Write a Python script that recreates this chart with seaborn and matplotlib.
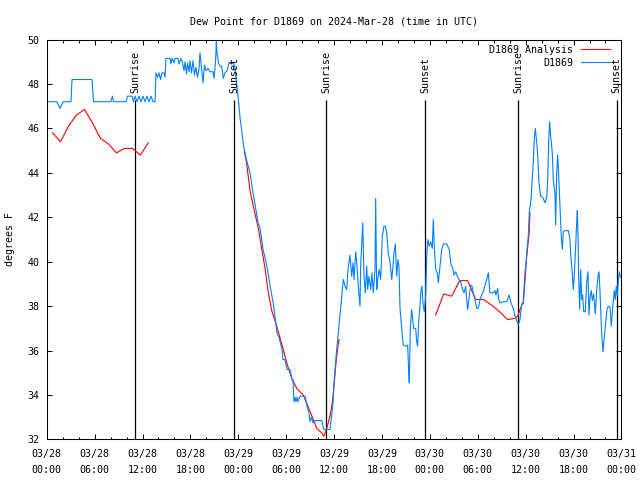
import matplotlib
matplotlib.use("Agg")
import matplotlib.pyplot as plt
import seaborn as sns
import numpy as np
import pandas as pd

start = pd.Timestamp("2024-03-28 00:00")

# station observations (hours since 03/28 00:00 UTC, deg F)
obs_hours = [
    0.0, 1.29, 1.67, 2.04, 3.04, 3.17, 5.67, 5.86, 8.05, 8.22,
    8.37, 9.93, 10.12, 10.69, 10.87, 11.06, 11.31, 11.56, 11.81, 12.06,
    12.31, 12.56, 12.81, 13.06, 13.31, 13.57, 13.69, 13.88, 14.07, 14.26,
    14.44, 14.69, 14.82, 14.94, 15.45, 15.57, 15.70, 15.95, 16.07, 16.45,
    16.57, 16.82, 17.01, 17.20, 17.32, 17.51, 17.64, 17.83, 17.95, 18.14,
    18.33, 18.51, 18.70, 18.89, 19.08, 19.20, 19.39, 19.58, 19.77, 19.96,
    20.21, 20.46, 20.83, 20.96, 21.15, 21.25, 21.33, 21.52, 21.71, 21.92,
    22.12, 22.34, 22.59, 22.84, 23.15, 23.40, 23.59, 23.80, 24.00, 24.21,
    24.43, 24.63, 24.84, 25.09, 25.47, 25.84, 26.09, 26.47, 26.72, 27.10,
    27.47, 27.72, 28.04, 28.35, 28.60, 28.85, 29.10, 29.48, 29.60, 29.85,
    30.10, 30.48, 30.73, 30.85, 30.98, 31.10, 31.23, 31.36, 31.48, 31.73,
    32.36, 32.61, 32.86, 32.98, 33.17, 33.36, 33.61, 34.45, 34.61, 34.74,
    35.49, 35.70, 35.86, 35.99, 36.24, 36.49, 36.74, 36.95, 37.16, 37.37,
    37.58, 37.74, 37.99, 38.21, 38.37, 38.50, 38.71, 38.87, 39.12, 39.25,
    39.33, 39.50, 39.59, 39.75, 39.91, 40.09, 40.21, 40.37, 40.59, 40.75,
    40.91, 41.13, 41.21, 41.34, 41.46, 41.66, 41.84, 42.04, 42.25, 42.42,
    42.59, 42.79, 43.01, 43.22, 43.34, 43.51, 43.67, 43.84, 44.01, 44.13,
    44.26, 44.51, 44.67, 45.01, 45.22, 45.35, 45.42, 45.55, 45.72, 45.85,
    45.97, 46.22, 46.35, 46.47, 46.60, 46.76, 46.89, 47.01, 47.14, 47.30,
    47.48, 47.60, 47.73, 47.93, 48.10, 48.30, 48.43, 48.55, 48.73, 48.93,
    49.06, 49.27, 49.48, 49.68, 50.11, 50.43, 50.65, 50.86, 51.02, 51.24,
    51.44, 51.65, 51.86, 52.06, 52.28, 52.49, 52.61, 52.74, 52.94, 53.11,
    53.28, 53.44, 53.65, 53.87, 54.07, 54.28, 54.49, 54.69, 54.91, 55.12,
    55.32, 55.53, 55.95, 56.16, 56.28, 56.50, 56.62, 56.79, 57.20, 57.62,
    57.91, 58.16, 58.45, 58.66, 58.88, 59.08, 59.29, 59.50, 59.70, 59.83,
    60.00, 60.13, 60.33, 60.45, 60.67, 60.83, 60.96, 61.08, 61.21, 61.29,
    61.38, 61.51, 61.67, 61.88, 62.13, 62.42, 62.64, 62.76, 62.89, 63.01,
    63.09, 63.21, 63.34, 63.46, 63.67, 63.76, 63.89, 64.01, 64.09, 64.21,
    64.34, 64.46, 64.59, 64.71, 64.93, 65.34, 65.55, 65.68, 65.84, 65.97,
    66.09, 66.27, 66.39, 66.47, 66.56, 66.64, 66.77, 66.89, 67.02, 67.14,
    67.27, 67.47, 67.65, 67.81, 67.93, 68.06, 68.22, 68.35, 68.52, 68.72,
    68.90, 69.06, 69.19, 69.31, 69.44, 69.56, 69.69, 69.85, 70.03, 70.19,
    70.35, 70.57, 70.73, 70.85, 70.98, 71.10, 71.23, 71.35, 71.48, 71.60,
    71.73, 71.88,
]
obs_dewpt = [
    47.2, 47.2, 46.9, 47.2, 47.2, 48.2, 48.2, 47.2, 47.2, 47.45,
    47.2, 47.2, 47.45, 47.45, 47.2, 47.45, 47.2, 47.45, 47.2, 47.45,
    47.2, 47.45, 47.2, 47.45, 47.2, 47.2, 48.5, 48.3, 48.5, 48.2,
    48.5, 48.5, 48.3, 49.15, 49.15, 48.9, 49.15, 48.95, 49.15, 49.15,
    48.9, 49.15, 48.95, 48.6, 49.0, 48.45, 48.95, 48.55, 49.05, 48.5,
    49.05, 48.4, 48.75, 48.3, 48.7, 49.4, 48.7, 48.05, 48.85, 48.6,
    48.7, 48.55, 48.55, 48.25, 49.0, 49.9, 49.4, 48.95, 48.8, 48.8,
    48.25, 48.5, 48.6, 48.95, 48.9, 48.95, 48.7, 48.0, 47.35, 46.5,
    45.9, 45.3, 44.9, 44.5, 44.0, 43.1, 42.6, 41.75, 41.5, 40.55,
    40.0, 39.5, 38.8, 38.2, 37.5, 36.8, 36.6, 36.05, 35.6, 35.6,
    35.15, 35.15, 34.7, 34.7, 33.7, 33.9, 33.7, 33.9, 33.7, 33.95,
    33.95, 33.5, 33.2, 32.8, 33.0, 32.75, 32.85, 32.85, 32.6, 32.45,
    32.45, 33.1, 33.6, 34.55, 35.7, 36.65, 37.55, 38.45, 39.2, 38.9,
    38.75, 39.65, 40.3, 39.35, 39.95, 39.2, 40.45, 39.8, 38.5, 38.0,
    39.8, 41.1, 41.75, 39.35, 38.6, 39.8, 38.75, 39.35, 38.75, 39.5,
    38.6, 39.65, 42.85, 38.75, 39.2, 39.65, 39.2, 41.15, 41.6, 41.6,
    41.3, 40.4, 40.0, 39.2, 39.65, 40.4, 40.8, 39.35, 40.1, 39.8,
    37.9, 36.85, 36.25, 36.2, 36.25, 35.0, 34.55, 36.95, 37.85, 37.4,
    37.0, 37.0, 36.4, 36.2, 37.3, 38.0, 38.7, 38.9, 38.1, 37.75,
    38.5, 40.2, 41.0, 40.7, 40.9, 40.6, 41.9, 40.7, 39.65, 39.5,
    39.05, 39.8, 40.55, 40.8, 40.8, 40.55, 39.85, 39.75, 39.4, 39.55,
    39.35, 39.2, 39.1, 38.8, 38.6, 38.9, 38.3, 37.85, 38.45, 38.95,
    38.9, 38.6, 38.3, 37.9, 37.9, 38.3, 38.5, 38.65, 38.95, 39.2,
    39.5, 38.6, 38.6, 38.7, 38.5, 38.8, 38.3, 38.15, 38.2, 38.2,
    38.5, 38.15, 37.9, 37.55, 37.35, 37.15, 37.4, 38.1, 38.1, 38.7,
    39.5, 40.4, 41.15, 42.2, 42.8, 43.7, 44.5, 45.5, 46.0, 45.7,
    45.4, 44.8, 43.55, 42.95, 42.9, 42.65, 42.9, 43.7, 45.5, 46.3,
    45.8, 45.35, 44.9, 43.7, 43.1, 41.65, 44.0, 44.8, 44.3, 43.25,
    42.1, 41.15, 40.55, 41.35, 41.4, 41.4, 41.0, 40.15, 39.5, 38.75,
    39.4, 40.7, 41.75, 42.3, 41.3, 39.3, 37.85, 39.65, 38.3, 38.5,
    37.75, 37.75, 39.1, 39.55, 37.6, 38.4, 38.7, 38.25, 38.55, 37.65,
    38.7, 39.3, 39.55, 38.7, 37.45, 36.55, 35.95, 36.6, 37.25, 37.85,
    38.0, 37.95, 37.1, 37.7, 38.2, 38.7, 38.3, 38.9, 38.45, 39.1,
    39.55, 39.3,
]

# analysis values, three separate stretches
ana_hours = [
    0.73, 1.73, 2.73, 3.73, 4.73, 5.73, 6.73, 7.73, 8.73, 9.73, 10.73, 11.73, 12.73,
    24.75, 25.05, 25.47, 25.88, 26.51, 26.93, 27.35, 27.76, 28.19, 28.81, 29.44,
    30.07, 30.69, 31.32, 32.14, 32.77, 33.40, 33.82, 34.45, 34.74, 35.08, 35.49,
    35.78, 36.03, 36.24, 36.53, 36.65,
    48.73, 49.73, 50.73, 51.73, 52.73, 53.73, 54.73, 55.73, 56.73, 57.73, 58.73,
    59.08, 59.29, 59.70, 59.92, 60.21, 60.42, 60.55,
]
ana_dewpt = [
    45.8, 45.4, 46.1, 46.6, 46.85, 46.25, 45.55, 45.3, 44.9, 45.1, 45.1, 44.8, 45.35,
    45.0, 44.4, 43.2, 42.5, 41.5, 40.6, 39.7, 38.6, 37.8, 37.1, 36.3,
    35.45, 34.75, 34.3, 34.0, 33.45, 32.9, 32.5, 32.3, 32.15, 32.5, 33.05,
    33.65, 34.55, 35.45, 36.35, 36.5,
    37.6, 38.55, 38.45, 39.15, 39.15, 38.3, 38.3, 38.05, 37.75, 37.4, 37.45,
    37.6, 37.85, 38.2, 39.5, 40.5, 41.2, 42.2,
]

sunrise_hours = [11.12, 35.05, 59.05]
sunset_hours = [23.5, 47.42, 71.4]

obs = pd.DataFrame({"hour": obs_hours, "dewpt": obs_dewpt})
ana = pd.DataFrame({"hour": ana_hours, "dewpt": ana_dewpt})
ana["seg"] = np.concatenate([[0], np.cumsum(np.diff(ana["hour"]) > 2)])

plt.rcParams["font.family"] = "DejaVu Sans Mono"
plt.rcParams["font.size"] = 7.2

fig = plt.figure(figsize=(6.4, 4.8), dpi=100)
ax = fig.add_axes([0.073, 0.0844, 0.898, 0.8333])

sns.lineplot(data=ana, x="hour", y="dewpt", units="seg", estimator=None,
             color="#ff0000", lw=0.8, label="D1869 Analysis", ax=ax)
sns.lineplot(data=obs, x="hour", y="dewpt", estimator=None, sort=False,
             color="#0080ff", lw=0.8, label="D1869", ax=ax)

ax.vlines(sunrise_hours + sunset_hours, 32, 47.3, color="black", lw=0.9, zorder=1)
for h in sunrise_hours:
    ax.text(h, 47.6, "Sunrise", rotation=90, ha="center", va="bottom")
for h in sunset_hours:
    ax.text(h, 47.6, "Sunset", rotation=90, ha="center", va="bottom")

ax.set_xlim(0, 72)
ax.set_ylim(32, 50)
major = np.arange(0, 73, 6)
ax.set_xticks(major)
ax.set_xticks(np.arange(0, 73, 2), minor=True)
ax.set_xticklabels([(start + pd.Timedelta(hours=int(h))).strftime("%m/%d\n%H:%M") for h in major])
for t in ax.get_xticklabels():
    t.set_linespacing(1.7)
ax.set_yticks(np.arange(32, 51, 2))
ax.tick_params(which="both", direction="in", top=True, right=True, width=0.7, colors="black")
ax.tick_params(which="major", length=3.5)
ax.tick_params(which="minor", length=1.8)
ax.tick_params(axis="x", which="major", pad=7)
ax.tick_params(axis="y", pad=5)
for s in ax.spines.values():
    s.set_linewidth(0.75)

ax.set_xlabel("")
ax.set_ylabel("degrees F", labelpad=9)
ax.set_title("Dew Point for D1869 on 2024-Mar-28 (time in UTC)", fontsize=7.2, pad=11)

handles, labels = ax.get_legend_handles_labels()
uniq = {}
for hh, ll in zip(handles, labels):
    uniq.setdefault(ll, hh)
ax.legend(list(uniq.values()), list(uniq.keys()), loc="upper right",
          bbox_to_anchor=(1 - 11 / 574.8, 1 - 5 / 400), borderaxespad=0, borderpad=0,
          frameon=False, markerfirst=False, handlelength=2.9, handletextpad=0.8,
          labelspacing=0.3)

fig.savefig("out.png", dpi=100)
